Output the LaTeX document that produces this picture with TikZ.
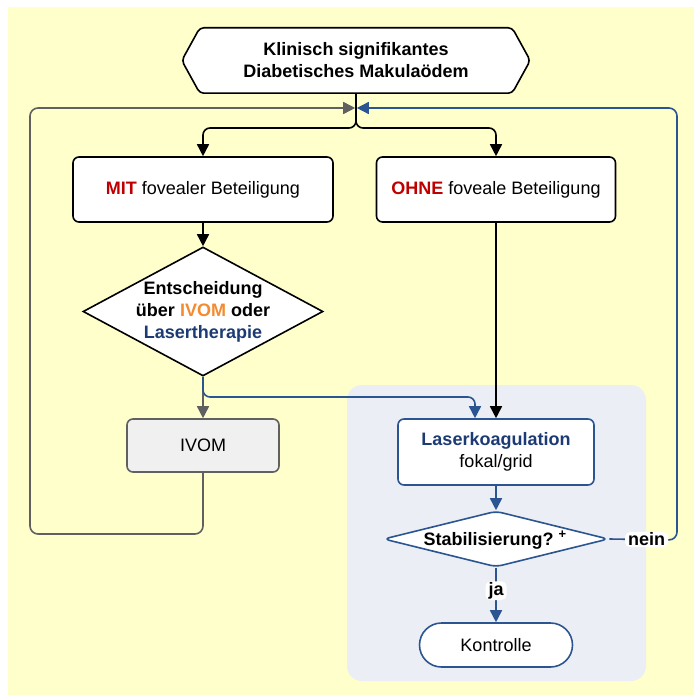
\documentclass[tikz,border=0pt]{standalone}
\usepackage{fontspec}
\setmainfont{Liberation Sans}
\usetikzlibrary{arrows.meta,shapes.geometric,calc}
\definecolor{bgyellow}{HTML}{FFFFCC}
\definecolor{panelblue}{HTML}{EBEEF4}
\definecolor{darkred}{HTML}{C00000}
\definecolor{ivomorange}{HTML}{F58A2E}
\definecolor{navytext}{HTML}{1C3B74}
\definecolor{lineblue}{HTML}{2B5590}
\definecolor{linegray}{HTML}{606060}
\definecolor{ivomfill}{HTML}{F0F0F0}
\begin{document}
\begin{tikzpicture}[x=1pt,y=-1pt,
  font=\fontsize{18}{22}\selectfont,
  procbox/.style={draw=black, line width=1.6pt, fill=white, rounded corners=6pt, align=center, inner sep=0pt},
  bluebox/.style={procbox, draw=lineblue},
  dia/.style={diamond, draw=black, line width=1.6pt, fill=white, inner sep=0pt},
  txt/.style={align=center, font=\fontsize{18}{22}\selectfont\bfseries, inner sep=0pt},
  blk/.style={draw=black, line width=1.6pt, -{Triangle[length=12pt,width=12pt]}},
  grayarr/.style={draw=linegray, line width=1.6pt, -{Triangle[length=12pt,width=12pt]}},
  bluearr/.style={draw=lineblue, line width=1.6pt, -{Triangle[length=12pt,width=12pt]}},
  lbl/.style={fill=white, rounded corners=5pt, inner xsep=3pt, inner ysep=1pt, font=\fontsize{18}{22}\selectfont\bfseries, text=black}
]
\useasboundingbox (0,0) rectangle (694,695);
\fill[white] (0,0) rectangle (694,695);
\fill[bgyellow] (8,7) rectangle (694,695);
\fill[panelblue, rounded corners=15pt] (347,385) rectangle (646,681);

% top hexagon
\node[align=center, minimum width=348pt, minimum height=65pt, inner sep=0pt, font=\fontsize{18}{22}\selectfont\bfseries] (top) at (356,60.5) {\phantom{Klinisch signifikantes}};
\draw[line width=1.6pt, fill=white, rounded corners=4pt] (top.north) -- ([xshift=-18pt]top.north east) -- (top.east) -- ([xshift=-18pt]top.south east) -- ([xshift=18pt]top.south west) -- (top.west) -- ([xshift=18pt]top.north west) -- cycle;
\node[align=center, inner sep=0pt, font=\fontsize{18}{22}\selectfont\bfseries] at (top.center) {Klinisch signifikantes\\Diabetisches Makulaödem};

\node[procbox, minimum width=260pt, minimum height=65pt] (mit) at (203,189.5) {\textbf{\textcolor{darkred}{MIT}} fovealer Beteiligung};
\node[procbox, minimum width=239pt, minimum height=65pt] (ohne) at (496,189.5) {\textbf{\textcolor{darkred}{OHNE}} foveale Beteiligung};

\node[dia, minimum width=240pt, minimum height=129pt] (d1) at (203,311.5) {};
\node[txt] at (203,311.5) {Entscheidung\\über \textcolor{ivomorange}{IVOM} oder\\\textcolor{navytext}{Lasertherapie}};

\node[procbox, draw=linegray, fill=ivomfill, minimum width=152pt, minimum height=53pt] (ivom) at (203,445.5) {IVOM};

\node[bluebox, minimum width=196pt, minimum height=66pt] (laser) at (496,452) {\textbf{\textcolor{navytext}{Laserkoagulation}}\\fokal/grid};

\node[dia, draw=lineblue, rounded corners=6pt, minimum width=225pt, minimum height=56pt] (stab) at (496,539) {};
\node[txt] at (495,540) {Stabilisierung?\hspace{5pt}\raisebox{7pt}{\fontsize{13}{13}\selectfont\bfseries +}};

\node[bluebox, rounded corners=22pt, minimum width=153pt, minimum height=44pt] (kontr) at (496,645) {Kontrolle};

\coordinate (merge) at (356,108);
\coordinate (split) at (356,128);

% connectors
\draw[blk, rounded corners=7pt] (top.south) -- (split) -| (mit.north);
\draw[blk, rounded corners=7pt] (top.south) -- (split) -| (ohne.north);
\draw[blk] (mit.south) -- (d1.north);
\draw[grayarr] (d1.south) -- (ivom.north);
\draw[bluearr, rounded corners=7pt] (d1.south) |- (475,397) -- ([xshift=-21pt]laser.north);
\draw[blk] (ohne.south) -- (laser.north);
\draw[grayarr, rounded corners=8pt, shorten >=0.8pt] (ivom.south) |- (30,534) |- (merge);
\draw[bluearr] (laser.south) -- (stab.north);
\draw[bluearr, rounded corners=8pt, shorten >=0.8pt] (stab.east) -- node[lbl, pos=0.55] {nein} (677,540) |- (merge);
\draw[bluearr] (stab.south) -- node[lbl, pos=0.42] {ja} (kontr.north);
\end{tikzpicture}
\end{document}
